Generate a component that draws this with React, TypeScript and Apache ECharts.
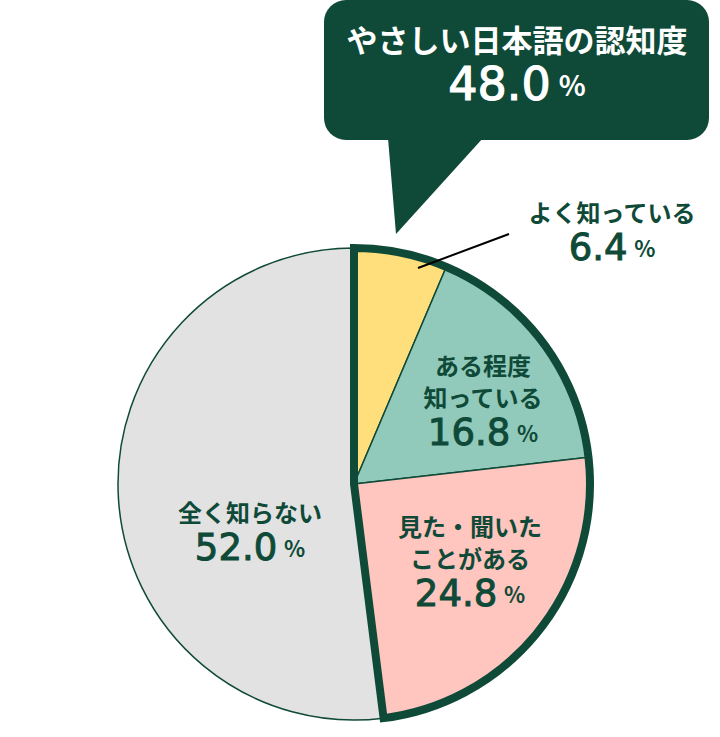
import React, { useEffect, useRef } from "react";
import * as echarts from "echarts";

const categories = ["よく知っている", "ある程度\n知っている", "見た・聞いた\nことがある", "全く知らない"];
const values = [6.4, 16.8, 24.8, 52.0];
const sliceColors = ["#FFDF7C", "#91C9BA", "#FFC5BF", "#E2E2E2"];
const highlightTitle = "やさしい日本語の認知度";
const highlightCount = 3; // first three slices form the "awareness" group
const labelAnchors = [
  [612, 231],
  [483, 400],
  [470, 561],
  [250, 531],
];

const DARK = "#0F4A38";
const FONT = "'Noto Sans CJK JP', 'Noto Sans', sans-serif";
const NUM_FONT = "'DejaVu Sans', 'Noto Sans', sans-serif";

export default function App() {
  const ref = useRef<HTMLDivElement>(null);
  useEffect(() => {
    document.body.style.margin = "0";
    if (!ref.current) return;
    const chart = echarts.init(ref.current, null, { renderer: "svg" });
    const groupValue = values.slice(0, highlightCount).reduce((a, b) => a + b, 0);
    const restValue = values.slice(highlightCount).reduce((a, b) => a + b, 0);

    const rich = {
      t: { fontFamily: FONT, fontWeight: "bold", fontSize: 24, lineHeight: 32, fill: DARK },
      n: { fontFamily: NUM_FONT, fontWeight: "normal", fontSize: 37, lineHeight: 40, fill: DARK, stroke: DARK, lineWidth: 1 },
      g: { fontFamily: FONT, fontSize: 30, lineHeight: 40, fill: DARK },
      p: { fontFamily: FONT, fontWeight: "bold", fontSize: 22, lineHeight: 40, fill: DARK },
    };

    const labelGraphics = categories.map((c, i) => {
      const lines = c.split("\n").map((s) => `{t|${s}}`).join("\n");
      return {
        type: "text",
        z: 20,
        style: {
          x: labelAnchors[i][0],
          y: labelAnchors[i][1],
          text: `${lines}\n{n|${values[i].toFixed(1)}}{g| }{p|%}`,
          rich,
          align: "center",
          verticalAlign: "middle",
          fill: DARK,
          fontFamily: FONT,
        },
      };
    });

    chart.setOption({
      animation: false,
      series: [
        {
          type: "pie",
          center: [354, 484],
          radius: [0, 236],
          startAngle: 90,
          clockwise: true,
          silent: true,
          label: { show: false },
          labelLine: { show: false },
          emphasis: { disabled: true },
          itemStyle: { borderColor: DARK, borderWidth: 1.5 },
          data: categories.map((c, i) => ({
            name: c,
            value: values[i],
            itemStyle: { color: sliceColors[i] },
          })),
          z: 2,
        },
        {
          type: "pie",
          center: [354, 484],
          radius: [0, 236],
          startAngle: 90,
          clockwise: true,
          silent: true,
          label: { show: false },
          labelLine: { show: false },
          emphasis: { disabled: true },
          data: [
            {
              name: "group",
              value: groupValue,
              itemStyle: { color: "rgba(0,0,0,0)", borderColor: DARK, borderWidth: 8, borderJoin: "miter" },
            },
            {
              name: "rest",
              value: restValue,
              itemStyle: { color: "rgba(0,0,0,0)", borderWidth: 0 },
            },
          ],
          z: 3,
        },
      ],
      graphic: [
        {
          type: "rect",
          z: 10,
          shape: { x: 324, y: 0, width: 385, height: 140, r: 22 },
          style: { fill: DARK },
        },
        {
          type: "polygon",
          z: 10,
          shape: { points: [[388, 138], [483, 138], [396, 234]] },
          style: { fill: DARK },
        },
        {
          type: "text",
          z: 11,
          style: {
            x: 517,
            y: 64,
            text: `{h|${highlightTitle}}\n{n|${groupValue.toFixed(1)}}{g| }{p|%}`,
            align: "center",
            verticalAlign: "middle",
            rich: {
              h: { fontFamily: FONT, fontWeight: "bold", fontSize: 31, lineHeight: 40, fill: "#fff" },
              n: { fontFamily: NUM_FONT, fontWeight: "normal", fontSize: 46, lineHeight: 52, fill: "#fff", stroke: "#fff", lineWidth: 1.2 },
              g: { fontFamily: FONT, fontSize: 36, lineHeight: 52, fill: "#fff" },
              p: { fontFamily: FONT, fontWeight: "bold", fontSize: 28, lineHeight: 52, fill: "#fff" },
            },
          },
        },
        {
          type: "line",
          z: 20,
          shape: { x1: 418, y1: 268, x2: 509, y2: 234 },
          style: { stroke: "#000", lineWidth: 2 },
        },
        ...labelGraphics,
      ],
    });
    return () => chart.dispose();
  }, []);
  return <div ref={ref} style={{ width: 720, height: 737 }} />;
}
